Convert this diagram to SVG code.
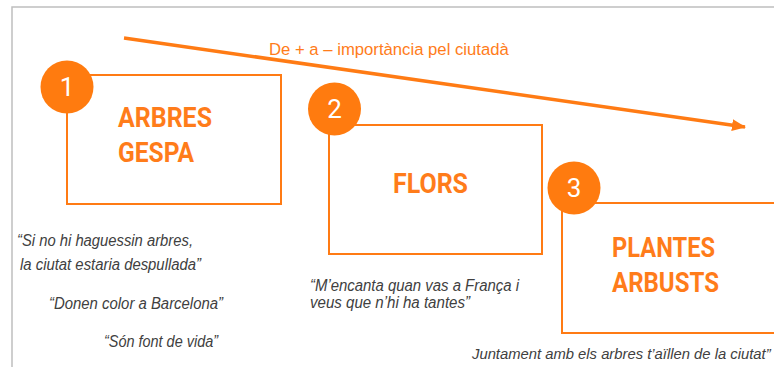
<svg xmlns="http://www.w3.org/2000/svg" width="774" height="367" viewBox="0 0 774 367">
<style>
.frame{fill:none;stroke:#bfbfbf;stroke-width:1.5}
.box{fill:none;stroke:#ff7b14;stroke-width:2}
.badge{fill:#ff7b0f}
.num{fill:#ffffff;font-family:Roboto,"Liberation Sans",sans-serif;font-size:26px;text-anchor:middle}
.title{fill:#ff7c1a;font-family:Roboto,"Liberation Sans",sans-serif;font-weight:bold;font-size:28px}
.quote{fill:#404040;font-family:"Liberation Sans",Arial,sans-serif;font-style:italic;font-size:16px}
.lbl{fill:#ff7c1a;font-family:"Liberation Sans",Arial,sans-serif;font-size:16.7px}
.arrow{stroke:#ff7b14;stroke-width:3.5;fill:none}
</style>
<defs>
<marker id="ah" markerUnits="userSpaceOnUse" markerWidth="14" markerHeight="12" refX="13" refY="6" orient="auto">
<path d="M0,0 L14,6 L0,12 Z" fill="#ff7b14"/>
</marker>
</defs>
<path class="frame" d="M12,367 L12,7 L774,7"/>
<g id="connectors">
<line class="arrow" x1="124" y1="38" x2="745" y2="127" marker-end="url(#ah)"/>
<text class="lbl" x="269" y="55">De + a – importància pel ciutadà</text>
</g>
<g id="node1">
<rect class="box" x="67" y="75" width="214" height="129"/>
<circle class="badge" cx="67" cy="87" r="26.5"/>
<text class="num" x="67" y="96">1</text>
<text class="title" x="118" y="127" textLength="94" lengthAdjust="spacingAndGlyphs">ARBRES</text>
<text class="title" x="118" y="162" textLength="76" lengthAdjust="spacingAndGlyphs">GESPA</text>
</g>
<g id="node2">
<rect class="box" x="329" y="125" width="213" height="129"/>
<circle class="badge" cx="334.5" cy="109" r="26.5"/>
<text class="num" x="334.5" y="118">2</text>
<text class="title" x="393" y="193" textLength="75" lengthAdjust="spacingAndGlyphs">FLORS</text>
</g>
<g id="node3">
<rect class="box" x="562" y="203" width="220" height="130"/>
<circle class="badge" cx="574" cy="188" r="26.5"/>
<text class="num" x="574" y="197">3</text>
<text class="title" x="612" y="257" textLength="103" lengthAdjust="spacingAndGlyphs">PLANTES</text>
<text class="title" x="612" y="292" textLength="107" lengthAdjust="spacingAndGlyphs">ARBUSTS</text>
</g>
<g id="quotes">
<text class="quote" x="17" y="246" textLength="176" lengthAdjust="spacingAndGlyphs">“Si no hi haguessin arbres,</text>
<text class="quote" x="20" y="270" textLength="181" lengthAdjust="spacingAndGlyphs">la ciutat estaria despullada”</text>
<text class="quote" x="49" y="309" textLength="174" lengthAdjust="spacingAndGlyphs">“Donen color a Barcelona”</text>
<text class="quote" x="104" y="347" textLength="114" lengthAdjust="spacingAndGlyphs">“Són font de vida”</text>
<text class="quote" x="310" y="291" textLength="209" lengthAdjust="spacingAndGlyphs">“M’encanta quan vas a França i</text>
<text class="quote" x="310" y="308" textLength="160" lengthAdjust="spacingAndGlyphs">veus que n’hi ha tantes”</text>
<text class="quote" x="472" y="359" style="font-size:14.8px">Juntament amb els arbres t’aïllen de la ciutat”</text>
</g>
</svg>
